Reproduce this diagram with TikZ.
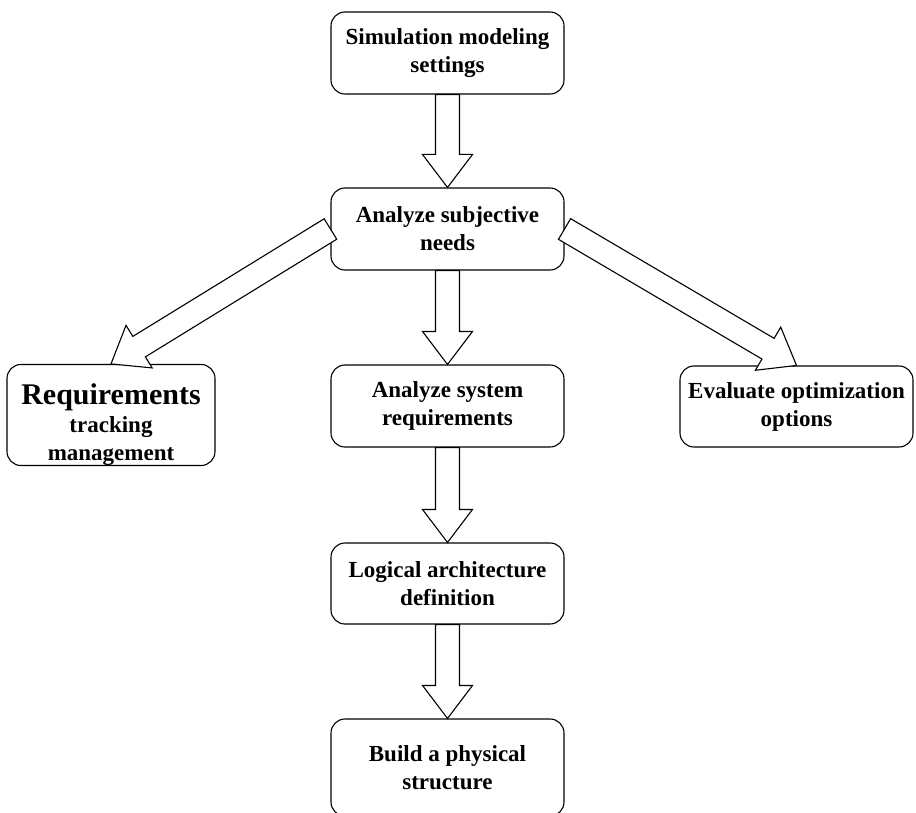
\documentclass[tikz,border=0pt]{standalone}
\usepackage{fontspec}
\setmainfont{Liberation Serif}
\usetikzlibrary{calc}
\tikzset{
  stage/.style={draw=black, line width=1.1pt, rounded corners=14pt, fill=white,
    align=center, inner sep=0pt, minimum width=233pt, minimum height=82pt,
    font=\fontsize{23}{28}\selectfont\bfseries},
  hollowarrow/.style={draw=black, line width=1.1pt, fill=white, line join=miter}
}
% hollow block arrow from #1 to #2: shaft 24pt wide, head 50pt wide and 33pt long
\newcommand\blockarr[2]{%
  \coordinate (ba-base) at ($(#2)!33pt!(#1)$);
  \draw[hollowarrow] ($(#1)!12pt!90:(#2)$) -- ($(ba-base)!12pt!-90:(#1)$)
    -- ($(ba-base)!25pt!-90:(#1)$) -- (#2) -- ($(ba-base)!25pt!90:(#1)$)
    -- ($(ba-base)!12pt!90:(#1)$) -- ($(#1)!12pt!-90:(#2)$) -- cycle;
}

\begin{document}
\begin{tikzpicture}[x=1pt,y=-1pt]
\useasboundingbox (0,0) rectangle (916,813);

\node[stage] (sim) at (447.5,53) {Simulation modeling\\settings};
\node[stage] (subj) at (447.5,229) {Analyze subjective\\needs};
\node[stage, minimum width=208pt, minimum height=100pt] (req) at (111,415)
  {\rule{0pt}{40pt}{\fontsize{30}{32}\selectfont Requirements}\\tracking\\management};
\node[stage] (sys) at (447.5,406) {Analyze system\\requirements};
\node[stage, minimum height=81pt] (eval) at (796.5,406.5) {Evaluate optimization\\options};
\node[stage, minimum height=81pt] (logic) at (447.5,583.5) {Logical architecture\\definition};
\node[stage, minimum height=97pt] (phys) at (447.5,767.5) {Build a physical\\structure};

\blockarr{sim.south}{subj.north}
\blockarr{subj.south}{sys.north}
\blockarr{subj.west}{req.north}
\blockarr{subj.east}{eval.north}
\blockarr{sys.south}{logic.north}
\blockarr{logic.south}{phys.north}
\end{tikzpicture}
\end{document}
